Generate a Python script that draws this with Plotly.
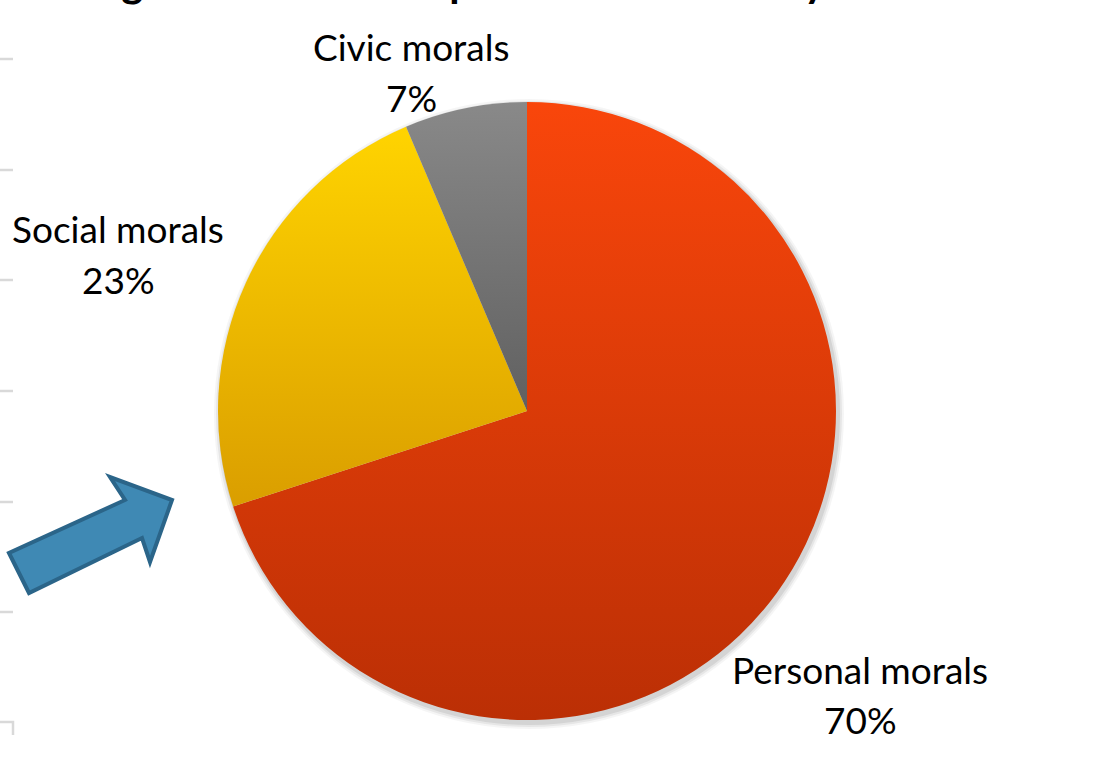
import plotly.graph_objects as go

# ---- data ----
categories = ["Personal morals", "Social morals", "Civic morals"]
values = [70.0, 23.6, 6.4]
pct_labels = ["70%", "23%", "7%"]
# cropped slide title, split into pieces (only descenders are visible)
title_parts = ["Teaching", "of all", "components", "in survey"]

W, H = 1097, 774

def px(x, y):
    return x / W, 1 - y / H

# pie geometry (pixels)
cx, cy, r = 527, 411, 309
x0, y0 = px(cx - r, cy + r)
x1, y1 = px(cx + r, cy - r)

base_colors = ["#dc3a08", "#efbb00", "#767676"]

fig = go.Figure(go.Pie(
    labels=categories,
    values=values,
    sort=False,
    direction="clockwise",
    rotation=0,
    textinfo="none",
    hoverinfo="skip",
    marker=dict(colors=base_colors, line=dict(width=0)),
    domain=dict(x=[x0, x1], y=[y0, y1]),
    showlegend=False,
))

shapes = []
# soft shadow
for k, a in [(6, 0.04), (4, 0.06), (2, 0.08)]:
    sx0, sy0 = px(cx - r - k + 2, cy + r + k + 3)
    sx1, sy1 = px(cx + r + k + 2, cy - r - k + 3)
    shapes.append(dict(type="circle", xref="paper", yref="paper", layer="below",
                       x0=sx0, y0=sy0, x1=sx1, y1=sy1,
                       fillcolor=f"rgba(0,0,0,{a})", line=dict(width=0)))

# left edge tick remnants
for ty in [59, 170, 280, 391, 502, 612]:
    a0 = px(0, ty); a1 = px(13, ty)
    shapes.append(dict(type="line", xref="paper", yref="paper",
                       x0=a0[0], y0=a0[1], x1=a1[0], y1=a1[1],
                       line=dict(color="#d9d9d9", width=2.5)))
pts = [px(0, 722), px(13, 722), px(13, 735)]
shapes.append(dict(type="path", xref="paper", yref="paper",
                   path="M {} {} L {} {} L {} {}".format(*pts[0], *pts[1], *pts[2]),
                   line=dict(color="#d9d9d9", width=2.5)))

# block arrow
arrow = [(9, 553), (29, 593), (142, 538), (150, 562), (172, 500), (110, 477), (125, 500)]
ap = [px(*p) for p in arrow]
path = "M " + " L ".join(f"{a} {b}" for a, b in ap) + " Z"
shapes.append(dict(type="path", xref="paper", yref="paper", path=path,
                   fillcolor="#3f89b4", line=dict(color="#2b6589", width=4)))

font = "Lato"
fs = 37
annotations = []
label_pos = {
    "Civic morals": (411, 47, 97),
    "Social morals": (118, 228, 279),
    "Personal morals": (860, 669, 719),
}
for cat, pl in zip(categories, pct_labels):
    lx, ly1, ly2 = label_pos[cat]
    for txt, ly in [(cat, ly1), (pl, ly2)]:
        ax, ay = px(lx, ly)
        annotations.append(dict(text=txt, x=ax, y=ay, xref="paper", yref="paper",
                                xanchor="center", yanchor="middle", showarrow=False,
                                font=dict(family=font, size=fs, color="#000000")))

# cropped title pieces (x pixel anchor, xanchor)
title_anchor = [(144, "right"), (255, "center"), (369, "left"), (828, "right")]
for part, (axp, anc) in zip(title_parts, title_anchor):
    tx, ty = px(axp, 7)
    annotations.append(dict(text="<b>" + part + "</b>", x=tx, y=ty, xref="paper", yref="paper",
                            xanchor=anc, yanchor="bottom", showarrow=False, borderpad=0,
                            font=dict(family="Lato", size=42, color="#000000")))

fig.update_layout(
    width=W, height=H,
    margin=dict(l=0, r=0, t=0, b=0),
    paper_bgcolor="white", plot_bgcolor="white",
    shapes=shapes, annotations=annotations,
    hovermode=False,
)

post = """
(function(){
  document.body.style.margin = '0';
  document.body.style.padding = '0';
  var gd = document.getElementById('{plot_id}');
  function apply(){
    var svg = gd.querySelector('svg.main-svg');
    if(!svg) return;
    var ns = 'http://www.w3.org/2000/svg';
    var defs = svg.querySelector('defs');
    if(!defs){ defs = document.createElementNS(ns,'defs'); svg.insertBefore(defs, svg.firstChild); }
    var grads = [['gP','#f9460b','#bb2f05'],['gS','#ffd400','#da9e00'],['gC','#898989','#606060']];
    grads.forEach(function(g){
      if(document.getElementById(g[0])) return;
      var lg = document.createElementNS(ns,'linearGradient');
      lg.setAttribute('id', g[0]); lg.setAttribute('x1','0'); lg.setAttribute('y1','0');
      lg.setAttribute('x2','0'); lg.setAttribute('y2','1');
      [[0,g[1]],[1,g[2]]].forEach(function(s){
        var st = document.createElementNS(ns,'stop');
        st.setAttribute('offset', s[0]); st.setAttribute('stop-color', s[1]);
        lg.appendChild(st);
      });
      defs.appendChild(lg);
    });
    var paths = gd.querySelectorAll('g.slice path.surface');
    var ids = ['gP','gS','gC'];
    paths.forEach(function(p, i){ if(i < ids.length){ p.style.fill = 'url(#' + ids[i] + ')'; } });
  }
  apply();
  setTimeout(apply, 50);
  if(gd && gd.on){ gd.on('plotly_afterplot', apply); }
})();
"""

fig.write_html("out.html", post_script=post, config={"displayModeBar": False})
